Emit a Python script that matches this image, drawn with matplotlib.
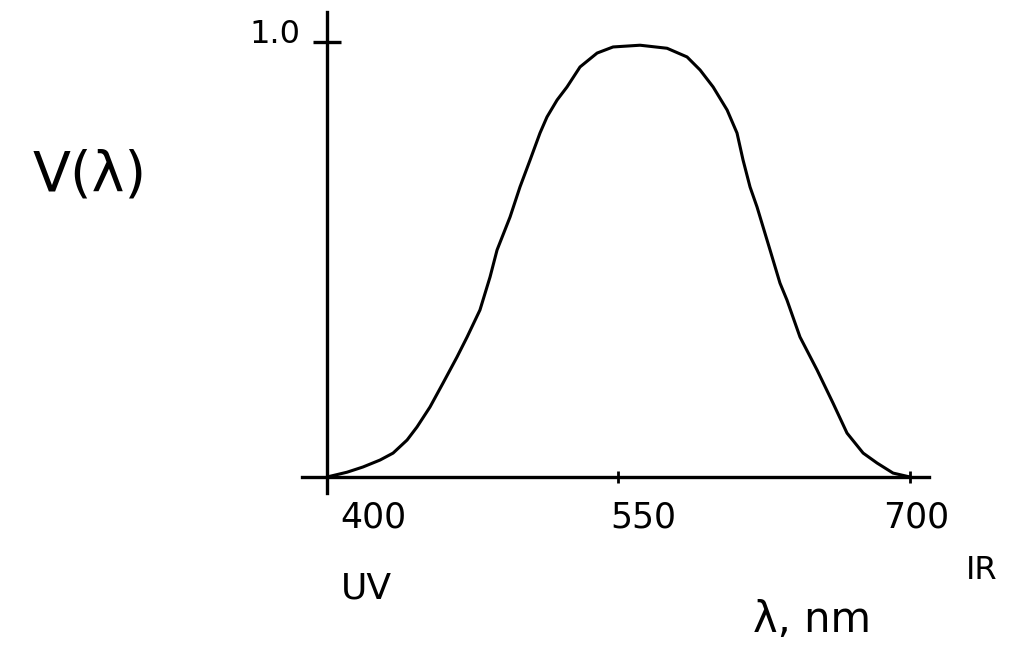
import matplotlib
matplotlib.use('Agg')
import matplotlib.pyplot as plt

# sketch of the eye sensitivity curve V(lambda)
wavelength = [400.0, 410.3, 418.5, 427.3, 434.0, 441.2, 446.3, 453.0, 459.7, 466.9,
              472.1, 478.7, 483.9, 487.5, 494.2, 499.3, 504.5, 509.6, 513.2, 518.4,
              523.5, 530.2, 539.0, 547.2, 561.1, 575.0, 585.3, 592.0, 598.7, 605.9,
              611.0, 614.1, 617.7, 621.3, 628.0, 633.1, 636.7, 643.4, 652.2, 660.4,
              667.6, 675.9, 683.1, 691.3, 700.0]
v_lambda = [0.0, 0.011, 0.023, 0.039, 0.055, 0.085, 0.115, 0.161, 0.216, 0.276,
            0.322, 0.384, 0.460, 0.522, 0.598, 0.667, 0.729, 0.791, 0.828, 0.867,
            0.897, 0.943, 0.975, 0.989, 0.993, 0.986, 0.966, 0.936, 0.897, 0.844,
            0.791, 0.729, 0.667, 0.621, 0.522, 0.446, 0.407, 0.322, 0.246, 0.170,
            0.101, 0.055, 0.032, 0.009, 0.0]

x_ticks = [550, 700]
x_tick_labels = ['400', '550', '700']
x_label_pos = [424, 563, 703]

fig = plt.figure(figsize=(10.11, 6.47), dpi=100)
ax = fig.add_axes([0, 0, 1, 1])
ax.set_xlim(231.7, 752.0)
ax.set_ylim(-0.391, 1.097)

ax.plot(wavelength, v_lambda, color='black', lw=2.2,
        solid_capstyle='round', solid_joinstyle='round')

for side in ['top', 'right']:
    ax.spines[side].set_visible(False)
ax.spines['left'].set_position(('data', 400))
ax.spines['bottom'].set_position(('data', 0))
ax.spines['left'].set_bounds(-0.037, 1.07)
ax.spines['bottom'].set_bounds(387, 710)
for side in ['left', 'bottom']:
    ax.spines[side].set_linewidth(2.4)

ax.set_xticks(x_ticks)
ax.set_xticklabels([])
ax.set_yticks([1.0])
ax.set_yticklabels([])
ax.tick_params(axis='x', direction='inout', length=8, width=2)
ax.tick_params(axis='y', direction='inout', length=20, width=2.4)

for lab, xp in zip(x_tick_labels, x_label_pos):
    ax.text(xp, -0.093, lab, ha='center', va='center', fontsize=25)
ax.text(0.272, 0.946, '1.0', transform=fig.transFigure, ha='center', va='center', fontsize=23)

ax.text(0.089, 0.729, 'V(λ)', transform=fig.transFigure, ha='center', va='center', fontsize=40)
ax.text(0.362, 0.091, 'UV', transform=fig.transFigure, ha='center', va='center', fontsize=26)
ax.text(0.803, 0.042, 'λ, nm', transform=fig.transFigure, ha='center', va='center', fontsize=30)
ax.text(0.971, 0.118, 'IR', transform=fig.transFigure, ha='center', va='center', fontsize=23)

fig.savefig('out.png', dpi=100)
